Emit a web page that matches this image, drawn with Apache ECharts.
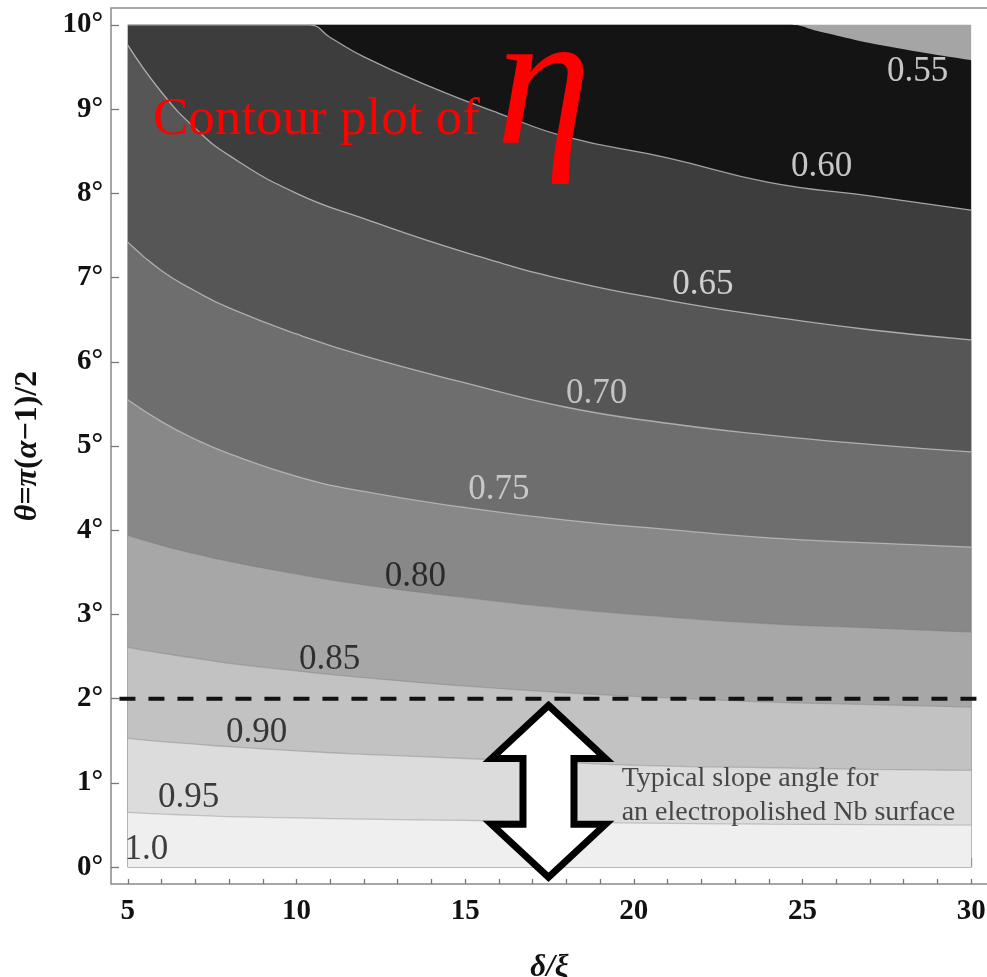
<!DOCTYPE html>
<html>
<head>
<meta charset="utf-8">
<script src="https://cdn.jsdelivr.net/npm/echarts@6/dist/echarts.min.js"></script>
<style>
  html, body { margin: 0; padding: 0; background: #fff; }
  #main { width: 987px; height: 977px; }
</style>
</head>
<body>
<div id="main"></div>
<script>
// contour levels of eta, each as [delta/xi, theta(deg)]
const levels = ['0.55', '0.60', '0.65', '0.70', '0.75', '0.80', '0.85', '0.90', '0.95'];
const eta055 = [[5, 10], [20, 10], [24.6, 10], [25.5, 9.92], [27.3, 9.76], [30, 9.58]];
const eta060 = [[5, 10], [9, 10], [10.38, 10], [11, 9.85], [12, 9.62], [14, 9.26], [16, 8.95], [18, 8.67], [21, 8.42], [24, 8.13], [27, 7.97], [30, 7.8]];
const eta065 = [[5, 9.76], [6, 9.2], [7, 8.77], [8, 8.45], [10, 8.0], [12, 7.7], [15, 7.3], [18, 6.97], [21, 6.73], [24, 6.54], [27, 6.38], [30, 6.26]];
const eta070 = [[5, 7.42], [6, 7.08], [7, 6.84], [8, 6.64], [10, 6.33], [12, 6.07], [15, 5.75], [18, 5.46], [21, 5.27], [24, 5.13], [27, 5.02], [30, 4.93]];
const eta075 = [[5, 5.55], [6, 5.29], [7, 5.08], [8, 4.91], [10, 4.64], [12, 4.46], [15, 4.27], [18, 4.12], [21, 4.01], [24, 3.91], [27, 3.85], [30, 3.8]];
const eta080 = [[5, 3.94], [6, 3.82], [7, 3.72], [8, 3.63], [10, 3.48], [12, 3.35], [15, 3.2], [18, 3.07], [21, 2.97], [24, 2.89], [27, 2.84], [30, 2.79]];
const eta085 = [[5, 2.61], [6, 2.54], [7, 2.48], [8, 2.42], [10, 2.33], [12, 2.25], [15, 2.15], [18, 2.07], [21, 2.01], [24, 1.96], [27, 1.93], [30, 1.9]];
const eta090 = [[5, 1.53], [6, 1.49], [7, 1.46], [8, 1.43], [10, 1.38], [12, 1.34], [15, 1.29], [18, 1.24], [21, 1.2], [24, 1.18], [27, 1.16], [30, 1.15]];
const eta095 = [[5, 0.65], [6, 0.63], [7, 0.615], [8, 0.6], [10, 0.585], [12, 0.57], [15, 0.555], [18, 0.535], [21, 0.52], [24, 0.51], [27, 0.505], [30, 0.5]];
const plotTop = [[5, 10], [30, 10]];

// label positions [x, theta, text]
const contourLabels = [
  [28.41, 9.44, '0.55'], [25.57, 8.31, '0.60'], [22.05, 6.91, '0.65'], [18.9, 5.62, '0.70'],
  [16.0, 4.48, '0.75'], [13.52, 3.45, '0.80'], [10.98, 2.46, '0.85'], [8.82, 1.59, '0.90'],
  [6.8, 0.82, '0.95'], [5.55, 0.2, '1.0']
];
const slopeLine = [[4.75, 2], [30.4, 2]];
const arrowSpan = [[17.47, 1.92, -0.12]];
const notePos = [[19.64, 0.848]];
const noteText = 'Typical slope angle for\nan electropolished Nb surface';

const xMajorTicks = [5, 10, 15, 20, 25, 30];
const xMinorTicks = [];
for (let i = 5; i <= 30; i++) xMinorTicks.push(i);
const yTicks = [0, 1, 2, 3, 4, 5, 6, 7, 8, 9, 10];

const serif = '"Liberation Serif", "Times New Roman", serif';
// band colours: region above first contour, then below each contour
const bandColors = ['#a5a5a5', '#141414', '#3d3d3d', '#565656', '#6e6e6e', '#888888', '#a7a7a7', '#c2c2c2', '#dcdcdc', '#efefef'];
const lineColors = [null, 'rgba(215,215,215,0.7)', 'rgba(215,215,215,0.7)', 'rgba(215,215,215,0.65)', 'rgba(215,215,215,0.6)',
  'rgba(120,120,120,0.35)', 'rgba(120,120,120,0.35)', 'rgba(120,120,120,0.35)', 'rgba(120,120,120,0.35)'];
const contours = [eta055, eta060, eta065, eta070, eta075, eta080, eta085, eta090, eta095];

let myChart = echarts.init(document.getElementById('main'));

const bandSeries = [{
  type: 'line', data: plotTop, symbol: 'none', silent: true,
  lineStyle: { width: 0 },
  areaStyle: { color: bandColors[0], opacity: 1, origin: 0 }
}];
contours.forEach((c, i) => {
  bandSeries.push({
    name: levels[i], type: 'line', data: c, symbol: 'none', silent: true,
    smooth: 0.5,
    lineStyle: lineColors[i] ? { color: lineColors[i], width: 1.3 } : { width: 0 },
    areaStyle: { color: bandColors[i + 1], opacity: 1, origin: 0 }
  });
});

const options = {
  animation: false,
  grid: {
    left: 111, top: 8, right: -1, bottom: 93,
    outerBoundsMode: 'none',
    show: true, borderColor: '#8a8a8a', borderWidth: 1.5
  },
  graphic: [
    {
      type: 'text', x: 153, y: 120, z: 100,
      style: { text: 'Contour plot of', fontFamily: serif, fontSize: 53, fill: '#ff0000', verticalAlign: 'middle' }
    },
    {
      type: 'text', x: 496, y: 93, z: 100,
      style: { text: 'η', fontFamily: serif, fontStyle: 'italic', fontSize: 192, fill: '#ff0000', verticalAlign: 'middle' }
    }
  ],
  xAxis: [
    {
      type: 'value', min: 4.5, max: 30.5,
      name: 'δ/ξ', nameLocation: 'middle', nameGap: 68,
      nameTextStyle: { fontFamily: serif, fontSize: 31, fontWeight: 'bold', fontStyle: 'italic', color: '#111' },
      axisLine: { show: false },
      splitLine: { show: false },
      axisTick: { show: true, inside: true, length: 9, customValues: xMajorTicks, lineStyle: { color: '#777', width: 1.3 } },
      axisLabel: { customValues: xMajorTicks, margin: 13, fontFamily: serif, fontSize: 29, fontWeight: 'bold', color: '#111' }
    },
    {
      type: 'value', min: 4.5, max: 30.5, position: 'bottom',
      axisLine: { show: false }, splitLine: { show: false },
      axisTick: { show: true, inside: true, length: 5, customValues: xMinorTicks, lineStyle: { color: '#777', width: 1.3 } },
      axisLabel: { show: false }
    }
  ],
  yAxis: {
    type: 'value', min: -0.2, max: 10.2,
    name: '{i|θ}={i|π}({i|α}−1)/2', nameLocation: 'middle', nameGap: 67, nameRotate: 90,
    nameTextStyle: {
      fontFamily: serif, fontSize: 32, fontWeight: 'bold', color: '#111',
      rich: { i: { fontFamily: serif, fontSize: 32, fontWeight: 'bold', fontStyle: 'italic', color: '#111' } }
    },
    axisLine: { show: false },
    splitLine: { show: false },
    axisTick: { show: true, inside: true, length: 8, customValues: yTicks, lineStyle: { color: '#777', width: 1.3 } },
    axisLabel: {
      customValues: yTicks, margin: 8, fontFamily: serif, fontSize: 29, fontWeight: 'bold', color: '#111',
      formatter: v => v + '°'
    }
  },
  series: bandSeries.concat([
    {
      type: 'line', data: slopeLine, symbol: 'none', silent: true, z: 5,
      lineStyle: { color: '#111', width: 4, type: [16, 13] }
    },
    {
      type: 'custom', data: arrowSpan, silent: true, clip: false, z: 6,
      renderItem: (params, api) => {
        const top = api.coord([api.value(0), api.value(1)]);
        const bot = api.coord([api.value(0), api.value(2)]);
        const cx = top[0], ty = top[1], by = bot[1];
        const hw = 57, sw = 25.5, hl = 53;
        return {
          type: 'polygon',
          shape: {
            points: [
              [cx, ty], [cx + hw, ty + hl], [cx + sw, ty + hl], [cx + sw, by - hl], [cx + hw, by - hl],
              [cx, by], [cx - hw, by - hl], [cx - sw, by - hl], [cx - sw, ty + hl], [cx - hw, ty + hl]
            ]
          },
          style: { fill: '#fff', stroke: '#000', lineWidth: 7, lineJoin: 'miter', miterLimit: 10 }
        };
      }
    },
    {
      type: 'scatter', silent: true, z: 7, symbolSize: 0,
      itemStyle: { color: 'transparent' },
      data: contourLabels.map((d, i) => ({
        value: [d[0], d[1]], name: d[2],
        label: { color: i < 3 ? '#f2f2f2' : (i < 5 ? '#dedede' : '#111') }
      })),
      label: {
        show: true, position: [0, 0], align: 'center', verticalAlign: 'middle',
        formatter: '{b}', fontFamily: serif, fontSize: 35
      }
    },
    {
      type: 'scatter', silent: true, z: 7, symbolSize: 0,
      itemStyle: { color: 'transparent' },
      data: notePos,
      label: {
        show: true, position: [0, 0], align: 'left', verticalAlign: 'middle',
        formatter: noteText, fontFamily: serif, fontSize: 28, lineHeight: 34, color: '#222'
      }
    }
  ])
};
myChart.setOption(options);
</script>
</body>
</html>
